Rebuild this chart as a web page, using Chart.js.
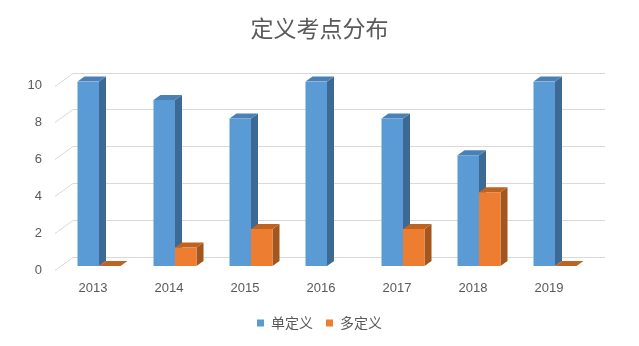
<!DOCTYPE html>
<html>
<head>
<meta charset="utf-8">
<script src="https://cdn.jsdelivr.net/npm/chart.js@4"></script>
<style>
body { margin: 0; background: #fff; }
#wrap { width: 639px; height: 346px; }
</style>
</head>
<body>
<div id="wrap"><canvas id="myChart"></canvas></div>
<script>
const years = ['2013', '2014', '2015', '2016', '2017', '2018', '2019'];
const singleDef = [10, 9, 8, 10, 8, 6, 10];
const multiDef = [0, 1, 2, null, 2, 4, 0];

const frontColors = ['#5B9BD5', '#ED7D31'];
const sideColors = ['#3D6A94', '#A3561D'];
const topColors = ['#4A80B6', '#BF6321'];

// profondeur des barres et du mur du fond
const barDx = 7, barDy = 5;
const floorDx = 6, floorDy = 4;
const wallDx = 12, wallDy = 9;

const depth3d = {
    id: 'depth3d',
    beforeDatasetsDraw(chart) {
        const { ctx, chartArea: a } = chart;
        const y = chart.scales.y;
        ctx.save();
        // lignes de grille en perspective
        ctx.strokeStyle = '#D9D9D9';
        ctx.lineWidth = 1;
        y.ticks.forEach(t => {
            const py = Math.round(y.getPixelForValue(t.value)) + 0.5;
            ctx.beginPath();
            ctx.moveTo(a.left - floorDx, py + floorDy);
            ctx.lineTo(a.left + wallDx, py - wallDy);
            ctx.lineTo(a.right + wallDx, py - wallDy);
            ctx.stroke();
        });
        // cotés et dessus des barres
        chart.data.datasets.forEach((ds, di) => {
            chart.getDatasetMeta(di).data.forEach((bar, i) => {
                if (ds.data[i] == null) return;
                const l = bar.x - bar.width / 2;
                const r = bar.x + bar.width / 2;
                ctx.fillStyle = sideColors[di];
                ctx.beginPath();
                ctx.moveTo(r, bar.y);
                ctx.lineTo(r + barDx, bar.y - barDy);
                ctx.lineTo(r + barDx, bar.base - barDy);
                ctx.lineTo(r, bar.base);
                ctx.closePath();
                ctx.fill();
                ctx.fillStyle = topColors[di];
                ctx.beginPath();
                ctx.moveTo(l, bar.y);
                ctx.lineTo(l + barDx, bar.y - barDy);
                ctx.lineTo(r + barDx, bar.y - barDy);
                ctx.lineTo(r, bar.y);
                ctx.closePath();
                ctx.fill();
            });
        });
        ctx.restore();
    }
};

const ctx = document.getElementById('myChart').getContext('2d');
new Chart(ctx, {
    type: 'bar',
    data: {
        labels: years,
        datasets: [
            { label: '单定义', data: singleDef, backgroundColor: frontColors[0] },
            { label: '多定义', data: multiDef, backgroundColor: frontColors[1] }
        ]
    },
    options: {
        responsive: true,
        maintainAspectRatio: false,
        animation: false,
        layout: { padding: { left: 0, right: 0, top: 0, bottom: 6 } },
        datasets: {
            bar: { categoryPercentage: 0.566, barPercentage: 1 }
        },
        scales: {
            x: {
                grid: { display: false, drawTicks: false },
                border: { display: false },
                afterFit: s => { s.height = 37; },
                ticks: {
                    labelOffset: -6,
                    padding: 15,
                    color: '#595959',
                    font: { family: 'Liberation Sans', size: 13 }
                }
            },
            y: {
                min: 0,
                max: 10,
                grid: { display: false, drawTicks: false },
                border: { display: false },
                afterFit: s => { s.width = 61; },
                ticks: {
                    stepSize: 2,
                    labelOffset: 4,
                    padding: 19,
                    color: '#595959',
                    font: { family: 'Liberation Sans', size: 13 }
                }
            },
            // marge à droite pour la profondeur
            yRight: {
                position: 'right',
                grid: { display: false, drawTicks: false },
                border: { display: false },
                ticks: { display: false },
                afterFit: s => { s.width = 46; }
            }
        },
        plugins: {
            title: {
                display: true,
                text: '定义考点分布',
                color: '#595959',
                font: { family: 'Noto Sans CJK SC', size: 23, weight: 'normal' },
                padding: { top: 14, bottom: 40 }
            },
            legend: {
                position: 'bottom',
                labels: {
                    boxWidth: 7,
                    boxHeight: 7,
                    padding: 13,
                    color: '#595959',
                    font: { family: 'Noto Sans CJK SC', size: 14 }
                }
            },
            tooltip: { enabled: false }
        }
    },
    plugins: [depth3d]
});
</script>
</body>
</html>
